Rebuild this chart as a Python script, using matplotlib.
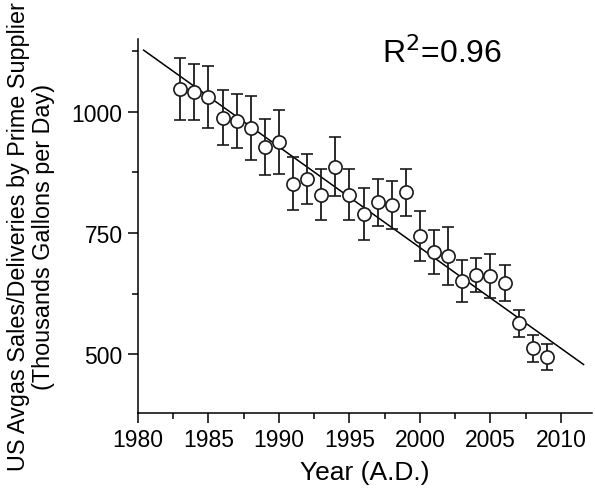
import numpy as np
import matplotlib.pyplot as plt
from matplotlib.ticker import MultipleLocator

plt.rcParams['font.family'] = ['Liberation Sans', 'DejaVu Sans']

# Dados
anos = [1983, 1984, 1985, 1986, 1987, 1988, 1989, 1990, 1991, 1992,
        1993, 1994, 1995, 1996, 1997, 1998, 1999, 2000, 2001, 2002,
        2003, 2004, 2005, 2006, 2007, 2008, 2009]
vendas = [1047, 1041, 1030, 988, 981, 966, 927, 938, 852, 861,
          829, 887, 829, 789, 813, 808, 834, 744, 711, 702,
          651, 664, 661, 647, 564, 512, 494]
erro = [64, 58, 64, 57, 56, 66, 58, 66, 55, 52,
        52, 61, 53, 54, 48, 49, 48, 52, 45, 60,
        44, 35, 45, 37, 28, 28, 27]

# Reta de ajuste (extremos)
ajuste_anos = [1980.4, 2011.6]
ajuste_vendas = [1127, 479]
r2 = 0.96

fig = plt.figure(figsize=(5.95, 4.89), dpi=100)
ax = fig.add_axes([138 / 595, 1 - 414 / 489, (592 - 138) / 595, (414 - 40) / 489])

ax.plot(ajuste_anos, ajuste_vendas, color='black', lw=1.1, zorder=2)
ax.errorbar(anos, vendas, yerr=erro, fmt='o', color='#1a1a1a', ecolor='#1a1a1a',
            elinewidth=1.3, capsize=4.5, capthick=1.3,
            markersize=9.5, markerfacecolor='white', markeredgecolor='#1a1a1a',
            markeredgewidth=1.2, zorder=3)

ax.set_xlim(1980, 2012.2)
ax.set_ylim(379, 1150)

ax.xaxis.set_major_locator(MultipleLocator(5))
ax.xaxis.set_minor_locator(MultipleLocator(2.5))
ax.yaxis.set_major_locator(MultipleLocator(250))
ax.yaxis.set_minor_locator(MultipleLocator(125))

ax.spines['top'].set_visible(False)
ax.spines['right'].set_visible(False)
for s in ['left', 'bottom']:
    ax.spines[s].set_linewidth(1.1)

ax.tick_params(which='major', direction='out', length=7, width=1.1, labelsize=16.5, pad=4)
ax.tick_params(which='minor', direction='out', length=4, width=1.1)

ax.set_xlabel('Year (A.D.)', fontsize=19, labelpad=6)
fig.text(31 / 595, 1 - 237 / 489,
         'US Avgas Sales/Deliveries by Prime Supplier\n(Thousands Gallons per Day)',
         fontsize=16.8, rotation=90, ha='center', va='center', linespacing=1.1,
         multialignment='center')

ax.text(1997.3, 1122, f'R$^2$={r2}', fontsize=23, va='center', ha='left')

plt.savefig('out.png', dpi=100)
